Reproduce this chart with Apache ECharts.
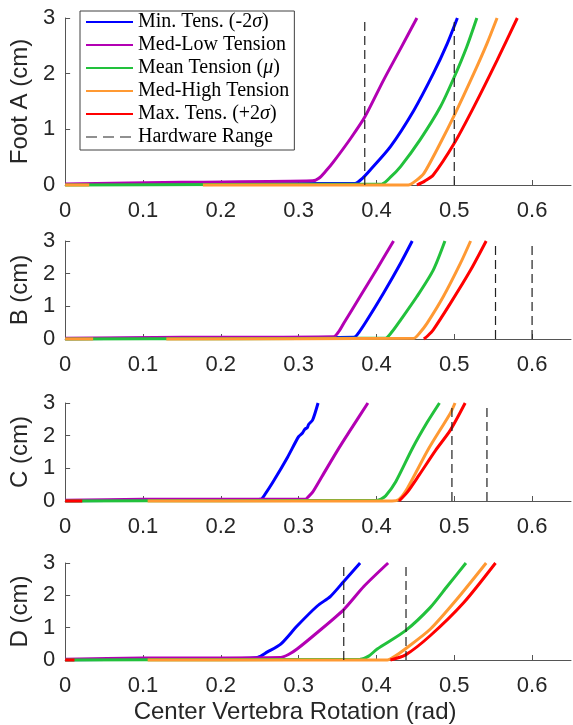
<!DOCTYPE html>
<html>
<head>
<meta charset="utf-8">
<script src="https://cdn.jsdelivr.net/npm/echarts@6/dist/echarts.min.js"></script>
<style>
  html, body { margin: 0; padding: 0; background: #fff; }
  #chart { width: 573px; height: 725px; }
</style>
</head>
<body>
<div id="chart"></div>
<script>
// legend names and colours
const curveNames = ['Min. Tens. (-2σ)', 'Med-Low Tension', 'Mean Tension (μ)', 'Med-High Tension', 'Max. Tens. (+2σ)'];
const curveColors = ['#0000ff', '#b300b3', '#22c13c', '#ff9933', '#ff0000'];
const panelNames = ['Foot A (cm)', 'B (cm)', 'C (cm)', 'D (cm)'];
const xTicks = [0, 0.1, 0.2, 0.3, 0.4, 0.5, 0.6];
const yTicks = [0, 1, 2, 3];

// Foot A  ([rotation rad, displacement cm], '-' = gap)
const minA  = [[0, 0.01], [0.2, 0.02], [0.373, 0.03], [0.382, 0.12], [0.392, 0.27], [0.418, 0.69], [0.448, 1.34], [0.473, 2.0], [0.491, 2.54], [0.504, 3.0]];
const lowA  = [[0, 0.02], [0.15, 0.05], [0.318, 0.075], [0.326, 0.12], [0.335, 0.25], [0.345, 0.42], [0.367, 0.84], [0.385, 1.22], [0.409, 1.88], [0.431, 2.45], [0.452, 3.0]];
const meanA = [[0, 0], [0.2, 0.01], [0.407, 0.02], [0.418, 0.14], [0.431, 0.33], [0.456, 0.81], [0.482, 1.4], [0.5, 1.94], [0.516, 2.48], [0.529, 3.0]];
const highA = [[0, 0], [0.031, 0], [0.1, '-'], [0.177, 0], [0.441, 0], [0.45, 0.07], [0.461, 0.21], [0.482, 0.75], [0.5, 1.25], [0.525, 2.0], [0.542, 2.54], [0.555, 3.0]];
const maxA  = [[0.452, 0], [0.462, 0.07], [0.473, 0.18], [0.5, 0.75], [0.525, 1.4], [0.555, 2.24], [0.581, 3.0]];
const hwA   = [0.385, 0.5];

// B
const minB  = [[0, 0.01], [0.2, 0.03], [0.371, 0.05], [0.378, 0.22], [0.388, 0.58], [0.409, 1.4], [0.431, 2.32], [0.446, 3.0]];
const lowB  = [[0, 0.02], [0.15, 0.05], [0.345, 0.07], [0.352, 0.24], [0.358, 0.48], [0.379, 1.3], [0.401, 2.16], [0.422, 3.0]];
const meanB = [[0, 0], [0.2, 0.01], [0.412, 0.03], [0.42, 0.22], [0.431, 0.58], [0.452, 1.3], [0.473, 2.11], [0.488, 3.0]];
const highB = [[0, 0], [0.036, 0], [0.08, '-'], [0.13, 0], [0.448, 0.02], [0.455, 0.17], [0.465, 0.48], [0.486, 1.3], [0.508, 2.32], [0.521, 3.0]];
const maxB  = [[0.461, 0], [0.466, 0.1], [0.473, 0.28], [0.495, 1.09], [0.521, 2.11], [0.541, 3.0]];
const hwB   = [0.553, 0.6];

// C
const minC  = [[0, 0.01], [0.2, 0.03], [0.251, 0.05], [0.258, 0.25], [0.268, 0.62], [0.286, 1.35], [0.3, 1.97], [0.305, 2.08], [0.308, 2.2], [0.311, 2.24], [0.313, 2.35], [0.318, 2.48], [0.325, 3.0]];
const lowC  = [[0, 0.02], [0.1, 0.05], [0.309, 0.06], [0.313, 0.14], [0.318, 0.27], [0.33, 0.75], [0.35, 1.55], [0.37, 2.3], [0.389, 3.0]];
const meanC = [[0, 0], [0.2, 0.01], [0.401, 0.02], [0.406, 0.06], [0.412, 0.16], [0.425, 0.6], [0.446, 1.6], [0.465, 2.4], [0.481, 3.0]];
const highC = [[0.106, 0], [0.42, 0], [0.429, 0.05], [0.44, 0.4], [0.467, 1.6], [0.495, 2.69], [0.501, 3.0]];
const maxC  = [[0, 0], [0.022, 0], [0.06, '-'], [0.429, 0], [0.44, 0.28], [0.455, 0.8], [0.476, 1.55], [0.495, 2.17], [0.514, 3.0]];
const hwC   = [0.497, 0.542];

// D
const minD  = [[0, 0.01], [0.2, 0.04], [0.247, 0.08], [0.26, 0.25], [0.277, 0.49], [0.298, 1.05], [0.324, 1.67], [0.341, 1.97], [0.358, 2.43], [0.379, 3.0]];
const lowD  = [[0, 0.02], [0.1, 0.06], [0.277, 0.08], [0.287, 0.17], [0.298, 0.34], [0.324, 0.85], [0.358, 1.56], [0.384, 2.28], [0.415, 3.0]];
const meanD = [[0, 0], [0.2, 0.01], [0.379, 0.02], [0.39, 0.12], [0.401, 0.34], [0.437, 0.9], [0.469, 1.62], [0.491, 2.28], [0.515, 3.0]];
const highD = [[0.106, 0], [0.414, 0], [0.424, 0.12], [0.437, 0.34], [0.469, 0.95], [0.503, 1.87], [0.541, 3.0]];
const maxD  = [[0, 0], [0.012, 0], [0.05, '-'], [0.418, 0], [0.437, 0.15], [0.469, 0.75], [0.512, 1.77], [0.553, 3.0]];
const hwD   = [0.358, 0.438];

const panelCurves = [
  [minA, lowA, meanA, highA, maxA],
  [minB, lowB, meanB, highB, maxB],
  [minC, lowC, meanC, highC, maxC],
  [minD, lowD, meanD, highD, maxD]
];
const panelHardware = [hwA, hwB, hwC, hwD];

const gridTops = [18, 241, 403, 563];
const gridHeights = [167, 98, 98, 98];
const axisColor = '#555';
const textColor = '#262626';
const sans = '"Liberation Sans", Arial, Helvetica, sans-serif';
const serif = '"Liberation Serif", "Times New Roman", serif';

const chart = echarts.init(document.getElementById('chart'), null, { renderer: 'canvas' });

const grids = [], xAxes = [], yAxes = [], series = [];
panelNames.forEach(function (label, p) {
  grids.push({ left: 64, width: 507, top: gridTops[p], height: gridHeights[p] });
  xAxes.push({
    type: 'value', gridIndex: p, min: 0, max: 0.65,
    name: p === 3 ? 'Center Vertebra Rotation (rad)' : '',
    nameLocation: 'middle', nameGap: 40,
    nameTextStyle: { fontFamily: sans, fontSize: 24, color: textColor, padding: [0, 46, 0, 0] },
    axisLine: { show: true, lineStyle: { color: axisColor, width: 1 } },
    axisTick: { show: true, inside: true, length: 5, customValues: xTicks, lineStyle: { color: axisColor } },
    axisLabel: { customValues: xTicks, margin: 15, fontFamily: sans, fontSize: 22, color: textColor,
      formatter: function (v) { return String(v); } },
    splitLine: { show: false }
  });
  yAxes.push({
    type: 'value', gridIndex: p, min: 0, max: 3,
    name: label, nameLocation: 'middle', nameGap: 20, nameRotate: 90,
    nameTextStyle: { fontFamily: sans, fontSize: 24, color: textColor },
    axisLine: { show: true, lineStyle: { color: axisColor, width: 1 } },
    axisTick: { show: true, inside: true, length: 5, customValues: yTicks, lineStyle: { color: axisColor } },
    axisLabel: { customValues: yTicks, margin: 10, fontFamily: sans, fontSize: 22, color: textColor },
    splitLine: { show: false }
  });
  panelCurves[p].forEach(function (data, k) {
    series.push({
      type: 'line', name: curveNames[k], xAxisIndex: p, yAxisIndex: p,
      data: data, symbol: 'none', clip: false, silent: true, connectNulls: false,
      smooth: 0.25,
      lineStyle: { width: 3, color: curveColors[k] },
      itemStyle: { color: curveColors[k] },
      z: 2 + k
    });
  });
  panelHardware[p].forEach(function (x) {
    series.push({
      type: 'line', name: 'Hardware Range', xAxisIndex: p, yAxisIndex: p,
      data: [[x, 0], [x, 3]], symbol: 'none', clip: false, silent: true,
      lineStyle: { width: 1.2, color: '#222', type: [9, 5] },
      itemStyle: { color: '#222' },
      z: 10
    });
  });
});

const legendData = curveNames.map(function (n) { return { name: n }; });
legendData.push({ name: 'Hardware Range', lineStyle: { type: [11, 6], width: 1.2, color: '#222' } });

chart.setOption({
  animation: false,
  backgroundColor: '#fff',
  grid: grids,
  xAxis: xAxes,
  yAxis: yAxes,
  legend: {
    left: 80, top: 11, orient: 'vertical',
    data: legendData,
    itemWidth: 47, itemHeight: 14, itemGap: 3,
    padding: [1, 5, 3, 5],
    borderColor: '#404040', borderWidth: 1, backgroundColor: '#fff',
    selectedMode: false,
    itemStyle: { opacity: 0 },
    textStyle: {
      fontFamily: serif, fontSize: 20, color: '#000', lineHeight: 20,
      rich: { i: { fontFamily: serif, fontSize: 20, fontStyle: 'italic', color: '#000', lineHeight: 20 } }
    },
    formatter: function (name) { return name.replace(/([σμ])/g, '{i|$1}'); }
  },
  series: series
});
</script>
</body>
</html>
